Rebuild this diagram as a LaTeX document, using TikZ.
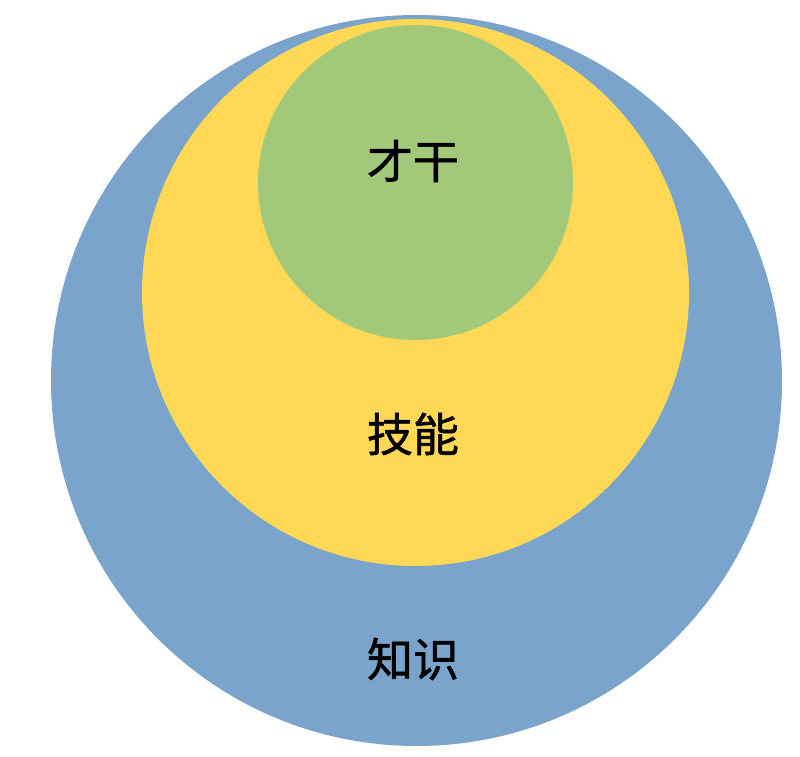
\documentclass[tikz,border=0pt]{standalone}
\usepackage{fontspec}
\newfontfamily\cjk[FakeBold=1.2]{Noto Sans CJK SC}
\definecolor{cblue}{HTML}{7AA4CB}
\definecolor{cyellow}{HTML}{FFD955}
\definecolor{cgreen}{HTML}{A2C979}
\begin{document}
\begin{tikzpicture}[x=1pt,y=1pt,
  ring/.style={circle,inner sep=0pt,draw=none},
  lbl/.style={font=\cjk\fontsize{46}{50}\selectfont,text=black,inner sep=0pt}]
\useasboundingbox (0,0) rectangle (800,757);
\node[ring,fill=cblue,minimum size=731pt] (know) at (416.5,376.5) {};
\node[ring,fill=cyellow,minimum size=547pt] (skill) at (415.5,464.5) {};
\node[ring,fill=cgreen,minimum size=315pt] (talent) at (415.5,574.5) {};
\node[lbl] (t1) at (413,596) {才干};
\node[lbl] (t2) at (413,323) {技能};
\node[lbl] (t3) at (413,98) {知识};
\end{tikzpicture}
\end{document}
